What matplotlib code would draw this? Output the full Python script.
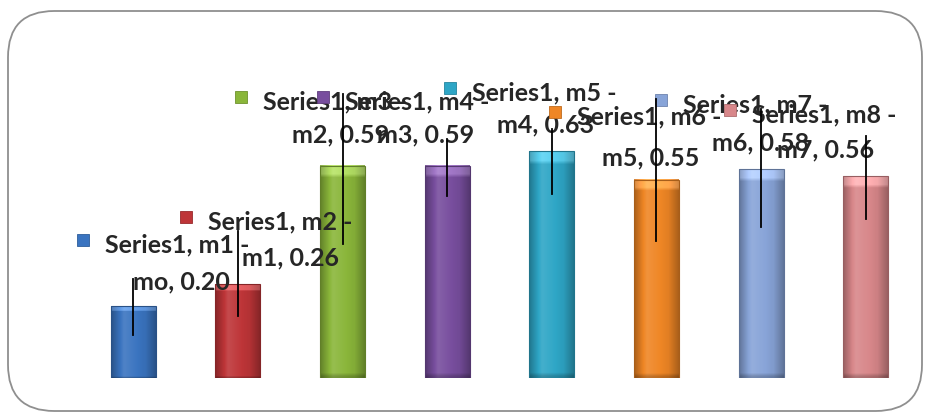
import numpy as np
import matplotlib
matplotlib.use("Agg")
import matplotlib.pyplot as plt
from matplotlib.colors import to_rgb
from matplotlib.patches import FancyBboxPatch

# Series values per category
categories = ["m1", "m2", "m3", "m4", "m5", "m6", "m7", "m8"]
prev_names = ["mo", "m1", "m2", "m3", "m4", "m5", "m6", "m7"]
values = [0.20, 0.26, 0.59, 0.59, 0.63, 0.55, 0.58, 0.56]
colors = ["#3a74c0", "#be3538", "#8ab63a", "#784e9e",
          "#2ea6c6", "#ef8625", "#88a4d8", "#d8878a"]

# label placement, pixels relative to the top centre of each bar
line1_off = [(-28, 62), (-30, 63), (-80, 65), (-102, 65),
             (-80, 59), (-79, 64), (-78, 65), (-114, 62)]
line2_off = [(0, 25), (4, 27), (-51, 32), (-70, 32),
             (-55, 27), (-54, 23), (-49, 27), (-89, 27)]
# leader lines: top / bottom in pixels above the bar top
leader = [(27, -29), (53, -32), (72, -78), (27, -30),
          (22, -43), (81, -61), (60, -58), (40, -43)]

W, H = 925, 414
fig = plt.figure(figsize=(W / 100, H / 100), dpi=100)
fig.patch.set_facecolor("white")

# rounded chart border
border = FancyBboxPatch((8 / W, 2 / H), 914 / W, 400 / H,
                        boxstyle="round,pad=0,rounding_size=0.05",
                        transform=fig.transFigure, fc="none", ec="#8f8f8f",
                        lw=1.3, mutation_aspect=W / H, zorder=-1)
fig.patches.append(border)

ax = fig.add_axes([81 / W, 35 / H, 837 / W, 252 / H])
ax.set_xlim(-0.5, 7.5)
ax.set_ylim(0, 0.7)
ax.axis("off")

px_x = 837 / 8.0       # pixels per category
px_y = 252 / 0.7       # pixels per unit value

bar_w = 0.43


def shade(c, f):
    r = np.array(to_rgb(c))
    if f >= 1:
        return r + (1 - r) * (f - 1)
    return r * f


# bars with a bevel-like gradient
prof = np.concatenate([np.linspace(0.72, 1.10, 12), np.linspace(1.10, 0.95, 18),
                       np.linspace(0.95, 0.72, 10)])
for i, v in enumerate(values):
    rows = 60
    img = np.zeros((rows, len(prof), 3))
    for j, f in enumerate(prof):
        img[:, j] = shade(colors[i], f)
    # lighter rim at the top of the bar
    top = int(rows * min(0.06, 8 / (v * px_y))) + 1
    img[:top] = np.clip(img[:top] + 0.16, 0, 1)
    img[-1:] = img[-1:] * 0.8
    ax.imshow(img, extent=(i - bar_w / 2, i + bar_w / 2, 0, v),
              aspect="auto", zorder=2, interpolation="bilinear")
    ax.bar(i, v, width=bar_w, color="none",
           edgecolor=shade(colors[i], 0.7), lw=0.8, zorder=3)

ax.set_xlim(-0.5, 7.5)
ax.set_ylim(0, 0.7)

font = dict(family=["Lato", "DejaVu Sans"], weight="bold",
            color="#262626", fontsize=18)

# data labels with legend keys
for i, v in enumerate(values):
    dx1, dy1 = line1_off[i]
    dx2, dy2 = line2_off[i]
    z = 5 + i
    ax.plot(i + (dx1 - 22) / px_x, v + (dy1 + 4) / px_y, marker="s",
            ms=8, color=colors[i], mec=shade(colors[i], 0.8),
            mew=0.6, zorder=z, clip_on=False)
    ax.text(i + dx1 / px_x, v + dy1 / px_y,
            "Series1, %s -" % categories[i],
            ha="left", va="center", zorder=z, **font)
    ax.text(i + dx2 / px_x, v + dy2 / px_y,
            "%s, %.2f" % (prev_names[i], v),
            ha="left", va="center", zorder=z, **font)

# leader lines
for i, v in enumerate(values):
    t, b = leader[i]
    ax.plot([i, i], [v + t / px_y, v + b / px_y], color="black",
            lw=1.3, zorder=20, clip_on=False)

fig.savefig("out.png", dpi=100)
